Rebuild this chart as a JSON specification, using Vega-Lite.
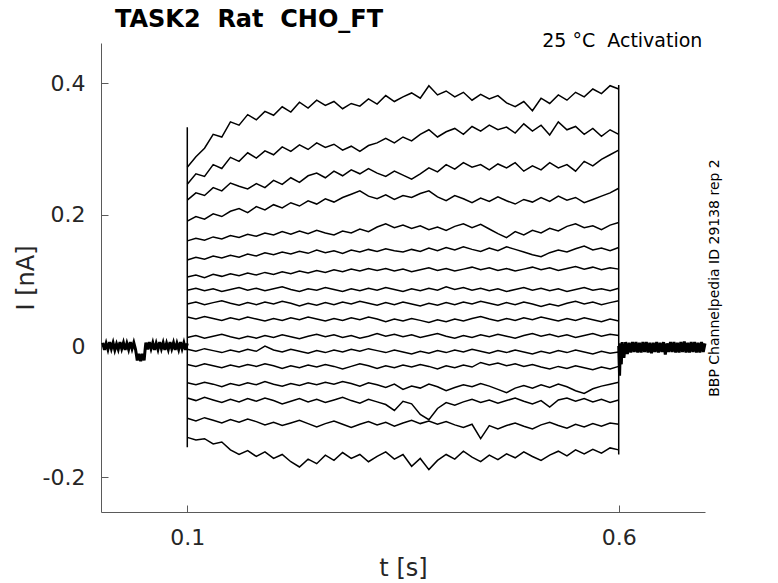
{
  "$schema": "https://vega.github.io/schema/vega-lite/v6.json",
  "width": 604,
  "height": 469,
  "autosize": {"type": "none"},
  "padding": {"left": 101, "top": 43, "right": 73, "bottom": 71},
  "background": "white",
  "title": {
    "text": "TASK2\u00a0 Rat\u00a0 CHO_FT",
    "anchor": "start",
    "frame": "group",
    "dx": 14,
    "dy": 11,
    "offset": -8,
    "baseline": "alphabetic",
    "font": "DejaVu Sans",
    "fontSize": 24,
    "fontWeight": "bold",
    "color": "black"
  },
  "datasets": {
    "base": [
      {"seg":"a","t":0.002,"i":0.005},{"seg":"a","t":0.004,"i":-0.006},{"seg":"a","t":0.006,"i":0.004},{"seg":"a","t":0.008,"i":-0.005},
      {"seg":"a","t":0.010,"i":0.006},{"seg":"a","t":0.012,"i":-0.004},{"seg":"a","t":0.014,"i":0.005},{"seg":"a","t":0.016,"i":-0.006},
      {"seg":"a","t":0.018,"i":0.003},{"seg":"a","t":0.020,"i":-0.005},{"seg":"a","t":0.022,"i":0.006},{"seg":"a","t":0.024,"i":-0.004},
      {"seg":"a","t":0.026,"i":0.005},{"seg":"a","t":0.028,"i":-0.006},{"seg":"a","t":0.030,"i":0.004},{"seg":"a","t":0.032,"i":-0.005},
      {"seg":"a","t":0.034,"i":0.006},{"seg":"a","t":0.036,"i":-0.004},{"seg":"a","t":0.038,"i":0.005},{"seg":"a","t":0.040,"i":-0.005},
      {"seg":"a","t":0.041,"i":-0.013},{"seg":"a","t":0.042,"i":-0.022},{"seg":"a","t":0.044,"i":-0.012},{"seg":"a","t":0.046,"i":-0.023},
      {"seg":"a","t":0.048,"i":-0.012},{"seg":"a","t":0.050,"i":-0.022},{"seg":"a","t":0.051,"i":-0.007},{"seg":"a","t":0.052,"i":0.005},
      {"seg":"a","t":0.054,"i":-0.005},{"seg":"a","t":0.056,"i":0.006},{"seg":"a","t":0.058,"i":-0.004},{"seg":"a","t":0.060,"i":0.005},
      {"seg":"a","t":0.062,"i":-0.006},{"seg":"a","t":0.064,"i":0.004},{"seg":"a","t":0.066,"i":-0.005},{"seg":"a","t":0.068,"i":0.006},
      {"seg":"a","t":0.070,"i":-0.004},{"seg":"a","t":0.072,"i":0.005},{"seg":"a","t":0.074,"i":-0.006},{"seg":"a","t":0.076,"i":0.004},
      {"seg":"a","t":0.078,"i":-0.005},{"seg":"a","t":0.080,"i":0.006},{"seg":"a","t":0.082,"i":-0.004},{"seg":"a","t":0.084,"i":0.005},
      {"seg":"a","t":0.086,"i":-0.006},{"seg":"a","t":0.088,"i":0.004},{"seg":"a","t":0.090,"i":-0.005},{"seg":"a","t":0.092,"i":0.006},
      {"seg":"a","t":0.094,"i":-0.004},{"seg":"a","t":0.096,"i":0.005},{"seg":"a","t":0.098,"i":-0.006},{"seg":"a","t":0.100,"i":0.004},
      {"seg":"b","t":0.600,"i":0.0},{"seg":"b","t":0.601,"i":-0.045},{"seg":"b","t":0.602,"i":0.004},{"seg":"b","t":0.603,"i":-0.028},
      {"seg":"b","t":0.604,"i":0.006},{"seg":"b","t":0.606,"i":-0.018},{"seg":"b","t":0.608,"i":0.006},{"seg":"b","t":0.610,"i":-0.012},
      {"seg":"b","t":0.612,"i":0.005},{"seg":"b","t":0.614,"i":-0.01},{"seg":"b","t":0.616,"i":0.006},{"seg":"b","t":0.618,"i":-0.009},
      {"seg":"b","t":0.620,"i":0.006},{"seg":"b","t":0.622,"i":-0.01},{"seg":"b","t":0.624,"i":0.005},{"seg":"b","t":0.626,"i":-0.01},
      {"seg":"b","t":0.628,"i":0.006},{"seg":"b","t":0.630,"i":-0.009},{"seg":"b","t":0.632,"i":0.006},{"seg":"b","t":0.634,"i":-0.01},
      {"seg":"b","t":0.636,"i":0.005},{"seg":"b","t":0.638,"i":-0.011},{"seg":"b","t":0.640,"i":0.005},{"seg":"b","t":0.642,"i":-0.009},
      {"seg":"b","t":0.644,"i":0.006},{"seg":"b","t":0.646,"i":-0.01},{"seg":"b","t":0.648,"i":0.005},{"seg":"b","t":0.650,"i":-0.009},
      {"seg":"b","t":0.652,"i":0.006},{"seg":"b","t":0.654,"i":-0.013},{"seg":"b","t":0.656,"i":0.004},{"seg":"b","t":0.658,"i":-0.009},
      {"seg":"b","t":0.660,"i":0.006},{"seg":"b","t":0.662,"i":-0.009},{"seg":"b","t":0.664,"i":0.006},{"seg":"b","t":0.666,"i":-0.01},
      {"seg":"b","t":0.668,"i":0.005},{"seg":"b","t":0.670,"i":-0.01},{"seg":"b","t":0.672,"i":0.006},{"seg":"b","t":0.674,"i":-0.009},
      {"seg":"b","t":0.676,"i":0.007},{"seg":"b","t":0.678,"i":-0.01},{"seg":"b","t":0.680,"i":0.005},{"seg":"b","t":0.682,"i":-0.01},
      {"seg":"b","t":0.684,"i":0.006},{"seg":"b","t":0.686,"i":-0.009},{"seg":"b","t":0.688,"i":0.006},{"seg":"b","t":0.690,"i":-0.01},
      {"seg":"b","t":0.692,"i":0.005},{"seg":"b","t":0.694,"i":-0.01},{"seg":"b","t":0.696,"i":0.006},{"seg":"b","t":0.698,"i":-0.009},
      {"seg":"b","t":0.700,"i":0.004}
    ],
    "spikes": [
      {"t": 0.1, "lo": -0.154, "hi": 0.333},
      {"t": 0.6, "lo": -0.165, "hi": 0.397}
    ],
    "traces": [
      {"k":1,"t":0.1,"i":0.272},{"k":1,"t":0.11,"i":0.288},{"k":1,"t":0.12,"i":0.301},{"k":1,"t":0.13,"i":0.322},{"k":1,"t":0.14,"i":0.318},{"k":1,"t":0.15,"i":0.341},{"k":1,"t":0.16,"i":0.336},{"k":1,"t":0.17,"i":0.352},{"k":1,"t":0.18,"i":0.344},{"k":1,"t":0.19,"i":0.357},
      {"k":1,"t":0.2,"i":0.351},{"k":1,"t":0.21,"i":0.364},{"k":1,"t":0.22,"i":0.356},{"k":1,"t":0.23,"i":0.371},{"k":1,"t":0.24,"i":0.362},{"k":1,"t":0.25,"i":0.374},{"k":1,"t":0.26,"i":0.366},{"k":1,"t":0.27,"i":0.372},{"k":1,"t":0.28,"i":0.361},{"k":1,"t":0.29,"i":0.369},
      {"k":1,"t":0.3,"i":0.365},{"k":1,"t":0.31,"i":0.376},{"k":1,"t":0.32,"i":0.368},{"k":1,"t":0.33,"i":0.381},{"k":1,"t":0.34,"i":0.372},{"k":1,"t":0.35,"i":0.379},{"k":1,"t":0.36,"i":0.385},{"k":1,"t":0.37,"i":0.377},{"k":1,"t":0.38,"i":0.396},{"k":1,"t":0.39,"i":0.382},
      {"k":1,"t":0.4,"i":0.388},{"k":1,"t":0.41,"i":0.379},{"k":1,"t":0.42,"i":0.386},{"k":1,"t":0.43,"i":0.374},{"k":1,"t":0.44,"i":0.383},{"k":1,"t":0.45,"i":0.376},{"k":1,"t":0.46,"i":0.381},{"k":1,"t":0.47,"i":0.37},{"k":1,"t":0.48,"i":0.364},{"k":1,"t":0.49,"i":0.372},
      {"k":1,"t":0.5,"i":0.358},{"k":1,"t":0.51,"i":0.377},{"k":1,"t":0.52,"i":0.369},{"k":1,"t":0.53,"i":0.382},{"k":1,"t":0.54,"i":0.374},{"k":1,"t":0.55,"i":0.386},{"k":1,"t":0.56,"i":0.379},{"k":1,"t":0.57,"i":0.391},{"k":1,"t":0.58,"i":0.384},{"k":1,"t":0.59,"i":0.396},{"k":1,"t":0.6,"i":0.391},

      {"k":2,"t":0.1,"i":0.246},{"k":2,"t":0.11,"i":0.262},{"k":2,"t":0.12,"i":0.258},{"k":2,"t":0.13,"i":0.276},{"k":2,"t":0.14,"i":0.27},{"k":2,"t":0.15,"i":0.287},{"k":2,"t":0.16,"i":0.281},{"k":2,"t":0.17,"i":0.294},{"k":2,"t":0.18,"i":0.286},{"k":2,"t":0.19,"i":0.297},
      {"k":2,"t":0.2,"i":0.291},{"k":2,"t":0.21,"i":0.303},{"k":2,"t":0.22,"i":0.296},{"k":2,"t":0.23,"i":0.306},{"k":2,"t":0.24,"i":0.299},{"k":2,"t":0.25,"i":0.309},{"k":2,"t":0.26,"i":0.302},{"k":2,"t":0.27,"i":0.307},{"k":2,"t":0.28,"i":0.298},{"k":2,"t":0.29,"i":0.304},
      {"k":2,"t":0.3,"i":0.296},{"k":2,"t":0.31,"i":0.305},{"k":2,"t":0.32,"i":0.309},{"k":2,"t":0.33,"i":0.316},{"k":2,"t":0.34,"i":0.309},{"k":2,"t":0.35,"i":0.318},{"k":2,"t":0.36,"i":0.312},{"k":2,"t":0.37,"i":0.322},{"k":2,"t":0.38,"i":0.329},{"k":2,"t":0.39,"i":0.318},
      {"k":2,"t":0.4,"i":0.326},{"k":2,"t":0.41,"i":0.331},{"k":2,"t":0.42,"i":0.322},{"k":2,"t":0.43,"i":0.334},{"k":2,"t":0.44,"i":0.327},{"k":2,"t":0.45,"i":0.336},{"k":2,"t":0.46,"i":0.329},{"k":2,"t":0.47,"i":0.333},{"k":2,"t":0.48,"i":0.324},{"k":2,"t":0.49,"i":0.338},
      {"k":2,"t":0.5,"i":0.327},{"k":2,"t":0.51,"i":0.336},{"k":2,"t":0.52,"i":0.321},{"k":2,"t":0.53,"i":0.341},{"k":2,"t":0.54,"i":0.329},{"k":2,"t":0.55,"i":0.334},{"k":2,"t":0.56,"i":0.322},{"k":2,"t":0.57,"i":0.331},{"k":2,"t":0.58,"i":0.319},{"k":2,"t":0.59,"i":0.329},{"k":2,"t":0.6,"i":0.322},

      {"k":3,"t":0.1,"i":0.222},{"k":3,"t":0.11,"i":0.233},{"k":3,"t":0.12,"i":0.229},{"k":3,"t":0.13,"i":0.241},{"k":3,"t":0.14,"i":0.236},{"k":3,"t":0.15,"i":0.248},{"k":3,"t":0.16,"i":0.243},{"k":3,"t":0.17,"i":0.239},{"k":3,"t":0.18,"i":0.247},{"k":3,"t":0.19,"i":0.241},
      {"k":3,"t":0.2,"i":0.252},{"k":3,"t":0.21,"i":0.246},{"k":3,"t":0.22,"i":0.256},{"k":3,"t":0.23,"i":0.249},{"k":3,"t":0.24,"i":0.259},{"k":3,"t":0.25,"i":0.263},{"k":3,"t":0.26,"i":0.256},{"k":3,"t":0.27,"i":0.266},{"k":3,"t":0.28,"i":0.259},{"k":3,"t":0.29,"i":0.268},
      {"k":3,"t":0.3,"i":0.262},{"k":3,"t":0.31,"i":0.27},{"k":3,"t":0.32,"i":0.263},{"k":3,"t":0.33,"i":0.258},{"k":3,"t":0.34,"i":0.266},{"k":3,"t":0.35,"i":0.26},{"k":3,"t":0.36,"i":0.254},{"k":3,"t":0.37,"i":0.262},{"k":3,"t":0.38,"i":0.271},{"k":3,"t":0.39,"i":0.265},
      {"k":3,"t":0.4,"i":0.276},{"k":3,"t":0.41,"i":0.269},{"k":3,"t":0.42,"i":0.279},{"k":3,"t":0.43,"i":0.272},{"k":3,"t":0.44,"i":0.276},{"k":3,"t":0.45,"i":0.268},{"k":3,"t":0.46,"i":0.277},{"k":3,"t":0.47,"i":0.271},{"k":3,"t":0.48,"i":0.279},{"k":3,"t":0.49,"i":0.266},
      {"k":3,"t":0.5,"i":0.274},{"k":3,"t":0.51,"i":0.268},{"k":3,"t":0.52,"i":0.279},{"k":3,"t":0.53,"i":0.271},{"k":3,"t":0.54,"i":0.276},{"k":3,"t":0.55,"i":0.266},{"k":3,"t":0.56,"i":0.281},{"k":3,"t":0.57,"i":0.274},{"k":3,"t":0.58,"i":0.284},{"k":3,"t":0.59,"i":0.291},{"k":3,"t":0.6,"i":0.298},

      {"k":4,"t":0.1,"i":0.19},{"k":4,"t":0.11,"i":0.197},{"k":4,"t":0.12,"i":0.193},{"k":4,"t":0.13,"i":0.201},{"k":4,"t":0.14,"i":0.197},{"k":4,"t":0.15,"i":0.205},{"k":4,"t":0.16,"i":0.209},{"k":4,"t":0.17,"i":0.203},{"k":4,"t":0.18,"i":0.212},{"k":4,"t":0.19,"i":0.207},
      {"k":4,"t":0.2,"i":0.215},{"k":4,"t":0.21,"i":0.21},{"k":4,"t":0.22,"i":0.218},{"k":4,"t":0.23,"i":0.213},{"k":4,"t":0.24,"i":0.221},{"k":4,"t":0.25,"i":0.216},{"k":4,"t":0.26,"i":0.224},{"k":4,"t":0.27,"i":0.219},{"k":4,"t":0.28,"i":0.226},{"k":4,"t":0.29,"i":0.231},
      {"k":4,"t":0.3,"i":0.236},{"k":4,"t":0.31,"i":0.228},{"k":4,"t":0.32,"i":0.224},{"k":4,"t":0.33,"i":0.23},{"k":4,"t":0.34,"i":0.223},{"k":4,"t":0.35,"i":0.229},{"k":4,"t":0.36,"i":0.226},{"k":4,"t":0.37,"i":0.232},{"k":4,"t":0.38,"i":0.236},{"k":4,"t":0.39,"i":0.227},
      {"k":4,"t":0.4,"i":0.221},{"k":4,"t":0.41,"i":0.229},{"k":4,"t":0.42,"i":0.224},{"k":4,"t":0.43,"i":0.218},{"k":4,"t":0.44,"i":0.225},{"k":4,"t":0.45,"i":0.22},{"k":4,"t":0.46,"i":0.227},{"k":4,"t":0.47,"i":0.221},{"k":4,"t":0.48,"i":0.216},{"k":4,"t":0.49,"i":0.223},
      {"k":4,"t":0.5,"i":0.219},{"k":4,"t":0.51,"i":0.226},{"k":4,"t":0.52,"i":0.22},{"k":4,"t":0.53,"i":0.228},{"k":4,"t":0.54,"i":0.222},{"k":4,"t":0.55,"i":0.226},{"k":4,"t":0.56,"i":0.218},{"k":4,"t":0.57,"i":0.223},{"k":4,"t":0.58,"i":0.228},{"k":4,"t":0.59,"i":0.233},{"k":4,"t":0.6,"i":0.24},

      {"k":5,"t":0.1,"i":0.16},{"k":5,"t":0.11,"i":0.164},{"k":5,"t":0.12,"i":0.161},{"k":5,"t":0.13,"i":0.166},{"k":5,"t":0.14,"i":0.163},{"k":5,"t":0.15,"i":0.168},{"k":5,"t":0.16,"i":0.165},{"k":5,"t":0.17,"i":0.17},{"k":5,"t":0.18,"i":0.167},{"k":5,"t":0.19,"i":0.172},
      {"k":5,"t":0.2,"i":0.169},{"k":5,"t":0.21,"i":0.174},{"k":5,"t":0.22,"i":0.17},{"k":5,"t":0.23,"i":0.175},{"k":5,"t":0.24,"i":0.171},{"k":5,"t":0.25,"i":0.176},{"k":5,"t":0.26,"i":0.172},{"k":5,"t":0.27,"i":0.169},{"k":5,"t":0.28,"i":0.175},{"k":5,"t":0.29,"i":0.172},
      {"k":5,"t":0.3,"i":0.178},{"k":5,"t":0.31,"i":0.174},{"k":5,"t":0.32,"i":0.181},{"k":5,"t":0.33,"i":0.186},{"k":5,"t":0.34,"i":0.18},{"k":5,"t":0.35,"i":0.184},{"k":5,"t":0.36,"i":0.179},{"k":5,"t":0.37,"i":0.183},{"k":5,"t":0.38,"i":0.177},{"k":5,"t":0.39,"i":0.181},
      {"k":5,"t":0.4,"i":0.176},{"k":5,"t":0.41,"i":0.182},{"k":5,"t":0.42,"i":0.186},{"k":5,"t":0.43,"i":0.18},{"k":5,"t":0.44,"i":0.185},{"k":5,"t":0.45,"i":0.178},{"k":5,"t":0.46,"i":0.171},{"k":5,"t":0.47,"i":0.165},{"k":5,"t":0.48,"i":0.174},{"k":5,"t":0.49,"i":0.169},
      {"k":5,"t":0.5,"i":0.176},{"k":5,"t":0.51,"i":0.172},{"k":5,"t":0.52,"i":0.179},{"k":5,"t":0.53,"i":0.175},{"k":5,"t":0.54,"i":0.182},{"k":5,"t":0.55,"i":0.186},{"k":5,"t":0.56,"i":0.18},{"k":5,"t":0.57,"i":0.183},{"k":5,"t":0.58,"i":0.177},{"k":5,"t":0.59,"i":0.184},{"k":5,"t":0.6,"i":0.188},

      {"k":6,"t":0.1,"i":0.131},{"k":6,"t":0.11,"i":0.135},{"k":6,"t":0.12,"i":0.132},{"k":6,"t":0.13,"i":0.137},{"k":6,"t":0.14,"i":0.134},{"k":6,"t":0.15,"i":0.138},{"k":6,"t":0.16,"i":0.135},{"k":6,"t":0.17,"i":0.14},{"k":6,"t":0.18,"i":0.137},{"k":6,"t":0.19,"i":0.142},
      {"k":6,"t":0.2,"i":0.139},{"k":6,"t":0.21,"i":0.143},{"k":6,"t":0.22,"i":0.14},{"k":6,"t":0.23,"i":0.144},{"k":6,"t":0.24,"i":0.141},{"k":6,"t":0.25,"i":0.146},{"k":6,"t":0.26,"i":0.142},{"k":6,"t":0.27,"i":0.145},{"k":6,"t":0.28,"i":0.141},{"k":6,"t":0.29,"i":0.146},
      {"k":6,"t":0.3,"i":0.143},{"k":6,"t":0.31,"i":0.147},{"k":6,"t":0.32,"i":0.144},{"k":6,"t":0.33,"i":0.148},{"k":6,"t":0.34,"i":0.145},{"k":6,"t":0.35,"i":0.143},{"k":6,"t":0.36,"i":0.147},{"k":6,"t":0.37,"i":0.144},{"k":6,"t":0.38,"i":0.149},{"k":6,"t":0.39,"i":0.145},
      {"k":6,"t":0.4,"i":0.15},{"k":6,"t":0.41,"i":0.146},{"k":6,"t":0.42,"i":0.151},{"k":6,"t":0.43,"i":0.147},{"k":6,"t":0.44,"i":0.144},{"k":6,"t":0.45,"i":0.149},{"k":6,"t":0.46,"i":0.145},{"k":6,"t":0.47,"i":0.151},{"k":6,"t":0.48,"i":0.147},{"k":6,"t":0.49,"i":0.143},
      {"k":6,"t":0.5,"i":0.139},{"k":6,"t":0.51,"i":0.136},{"k":6,"t":0.52,"i":0.142},{"k":6,"t":0.53,"i":0.146},{"k":6,"t":0.54,"i":0.143},{"k":6,"t":0.55,"i":0.148},{"k":6,"t":0.56,"i":0.152},{"k":6,"t":0.57,"i":0.146},{"k":6,"t":0.58,"i":0.149},{"k":6,"t":0.59,"i":0.145},{"k":6,"t":0.6,"i":0.15},

      {"k":7,"t":0.1,"i":0.105},{"k":7,"t":0.11,"i":0.108},{"k":7,"t":0.12,"i":0.104},{"k":7,"t":0.13,"i":0.109},{"k":7,"t":0.14,"i":0.106},{"k":7,"t":0.15,"i":0.11},{"k":7,"t":0.16,"i":0.107},{"k":7,"t":0.17,"i":0.111},{"k":7,"t":0.18,"i":0.108},{"k":7,"t":0.19,"i":0.112},
      {"k":7,"t":0.2,"i":0.109},{"k":7,"t":0.21,"i":0.113},{"k":7,"t":0.22,"i":0.11},{"k":7,"t":0.23,"i":0.114},{"k":7,"t":0.24,"i":0.111},{"k":7,"t":0.25,"i":0.115},{"k":7,"t":0.26,"i":0.112},{"k":7,"t":0.27,"i":0.116},{"k":7,"t":0.28,"i":0.113},{"k":7,"t":0.29,"i":0.117},
      {"k":7,"t":0.3,"i":0.114},{"k":7,"t":0.31,"i":0.118},{"k":7,"t":0.32,"i":0.115},{"k":7,"t":0.33,"i":0.118},{"k":7,"t":0.34,"i":0.114},{"k":7,"t":0.35,"i":0.117},{"k":7,"t":0.36,"i":0.113},{"k":7,"t":0.37,"i":0.116},{"k":7,"t":0.38,"i":0.119},{"k":7,"t":0.39,"i":0.115},
      {"k":7,"t":0.4,"i":0.118},{"k":7,"t":0.41,"i":0.114},{"k":7,"t":0.42,"i":0.117},{"k":7,"t":0.43,"i":0.12},{"k":7,"t":0.44,"i":0.116},{"k":7,"t":0.45,"i":0.119},{"k":7,"t":0.46,"i":0.115},{"k":7,"t":0.47,"i":0.118},{"k":7,"t":0.48,"i":0.114},{"k":7,"t":0.49,"i":0.117},
      {"k":7,"t":0.5,"i":0.12},{"k":7,"t":0.51,"i":0.116},{"k":7,"t":0.52,"i":0.119},{"k":7,"t":0.53,"i":0.115},{"k":7,"t":0.54,"i":0.118},{"k":7,"t":0.55,"i":0.121},{"k":7,"t":0.56,"i":0.117},{"k":7,"t":0.57,"i":0.12},{"k":7,"t":0.58,"i":0.116},{"k":7,"t":0.59,"i":0.119},{"k":7,"t":0.6,"i":0.117},

      {"k":8,"t":0.1,"i":0.085},{"k":8,"t":0.11,"i":0.088},{"k":8,"t":0.12,"i":0.084},{"k":8,"t":0.13,"i":0.087},{"k":8,"t":0.14,"i":0.083},{"k":8,"t":0.15,"i":0.086},{"k":8,"t":0.16,"i":0.089},{"k":8,"t":0.17,"i":0.085},{"k":8,"t":0.18,"i":0.088},{"k":8,"t":0.19,"i":0.084},
      {"k":8,"t":0.2,"i":0.087},{"k":8,"t":0.21,"i":0.09},{"k":8,"t":0.22,"i":0.086},{"k":8,"t":0.23,"i":0.083},{"k":8,"t":0.24,"i":0.087},{"k":8,"t":0.25,"i":0.085},{"k":8,"t":0.26,"i":0.089},{"k":8,"t":0.27,"i":0.086},{"k":8,"t":0.28,"i":0.083},{"k":8,"t":0.29,"i":0.087},
      {"k":8,"t":0.3,"i":0.084},{"k":8,"t":0.31,"i":0.088},{"k":8,"t":0.32,"i":0.085},{"k":8,"t":0.33,"i":0.089},{"k":8,"t":0.34,"i":0.086},{"k":8,"t":0.35,"i":0.083},{"k":8,"t":0.36,"i":0.087},{"k":8,"t":0.37,"i":0.084},{"k":8,"t":0.38,"i":0.088},{"k":8,"t":0.39,"i":0.085},
      {"k":8,"t":0.4,"i":0.09},{"k":8,"t":0.41,"i":0.086},{"k":8,"t":0.42,"i":0.089},{"k":8,"t":0.43,"i":0.085},{"k":8,"t":0.44,"i":0.088},{"k":8,"t":0.45,"i":0.084},{"k":8,"t":0.46,"i":0.087},{"k":8,"t":0.47,"i":0.083},{"k":8,"t":0.48,"i":0.086},{"k":8,"t":0.49,"i":0.089},
      {"k":8,"t":0.5,"i":0.085},{"k":8,"t":0.51,"i":0.088},{"k":8,"t":0.52,"i":0.084},{"k":8,"t":0.53,"i":0.087},{"k":8,"t":0.54,"i":0.083},{"k":8,"t":0.55,"i":0.086},{"k":8,"t":0.56,"i":0.089},{"k":8,"t":0.57,"i":0.085},{"k":8,"t":0.58,"i":0.087},{"k":8,"t":0.59,"i":0.084},{"k":8,"t":0.6,"i":0.088},

      {"k":9,"t":0.1,"i":0.064},{"k":9,"t":0.11,"i":0.067},{"k":9,"t":0.12,"i":0.063},{"k":9,"t":0.13,"i":0.066},{"k":9,"t":0.14,"i":0.069},{"k":9,"t":0.15,"i":0.065},{"k":9,"t":0.16,"i":0.062},{"k":9,"t":0.17,"i":0.066},{"k":9,"t":0.18,"i":0.063},{"k":9,"t":0.19,"i":0.067},
      {"k":9,"t":0.2,"i":0.064},{"k":9,"t":0.21,"i":0.068},{"k":9,"t":0.22,"i":0.065},{"k":9,"t":0.23,"i":0.061},{"k":9,"t":0.24,"i":0.065},{"k":9,"t":0.25,"i":0.062},{"k":9,"t":0.26,"i":0.066},{"k":9,"t":0.27,"i":0.063},{"k":9,"t":0.28,"i":0.067},{"k":9,"t":0.29,"i":0.064},
      {"k":9,"t":0.3,"i":0.068},{"k":9,"t":0.31,"i":0.065},{"k":9,"t":0.32,"i":0.062},{"k":9,"t":0.33,"i":0.066},{"k":9,"t":0.34,"i":0.063},{"k":9,"t":0.35,"i":0.067},{"k":9,"t":0.36,"i":0.064},{"k":9,"t":0.37,"i":0.061},{"k":9,"t":0.38,"i":0.065},{"k":9,"t":0.39,"i":0.062},
      {"k":9,"t":0.4,"i":0.066},{"k":9,"t":0.41,"i":0.063},{"k":9,"t":0.42,"i":0.067},{"k":9,"t":0.43,"i":0.064},{"k":9,"t":0.44,"i":0.068},{"k":9,"t":0.45,"i":0.065},{"k":9,"t":0.46,"i":0.062},{"k":9,"t":0.47,"i":0.066},{"k":9,"t":0.48,"i":0.063},{"k":9,"t":0.49,"i":0.067},
      {"k":9,"t":0.5,"i":0.064},{"k":9,"t":0.51,"i":0.06},{"k":9,"t":0.52,"i":0.064},{"k":9,"t":0.53,"i":0.061},{"k":9,"t":0.54,"i":0.065},{"k":9,"t":0.55,"i":0.068},{"k":9,"t":0.56,"i":0.064},{"k":9,"t":0.57,"i":0.067},{"k":9,"t":0.58,"i":0.063},{"k":9,"t":0.59,"i":0.066},{"k":9,"t":0.6,"i":0.069},

      {"k":10,"t":0.1,"i":0.044},{"k":10,"t":0.11,"i":0.041},{"k":10,"t":0.12,"i":0.045},{"k":10,"t":0.13,"i":0.042},{"k":10,"t":0.14,"i":0.039},{"k":10,"t":0.15,"i":0.043},{"k":10,"t":0.16,"i":0.04},{"k":10,"t":0.17,"i":0.044},{"k":10,"t":0.18,"i":0.041},{"k":10,"t":0.19,"i":0.038},
      {"k":10,"t":0.2,"i":0.042},{"k":10,"t":0.21,"i":0.039},{"k":10,"t":0.22,"i":0.043},{"k":10,"t":0.23,"i":0.04},{"k":10,"t":0.24,"i":0.044},{"k":10,"t":0.25,"i":0.041},{"k":10,"t":0.26,"i":0.038},{"k":10,"t":0.27,"i":0.042},{"k":10,"t":0.28,"i":0.039},{"k":10,"t":0.29,"i":0.043},
      {"k":10,"t":0.3,"i":0.04},{"k":10,"t":0.31,"i":0.044},{"k":10,"t":0.32,"i":0.041},{"k":10,"t":0.33,"i":0.037},{"k":10,"t":0.34,"i":0.041},{"k":10,"t":0.35,"i":0.038},{"k":10,"t":0.36,"i":0.042},{"k":10,"t":0.37,"i":0.039},{"k":10,"t":0.38,"i":0.036},{"k":10,"t":0.39,"i":0.04},
      {"k":10,"t":0.4,"i":0.037},{"k":10,"t":0.41,"i":0.041},{"k":10,"t":0.42,"i":0.038},{"k":10,"t":0.43,"i":0.042},{"k":10,"t":0.44,"i":0.045},{"k":10,"t":0.45,"i":0.041},{"k":10,"t":0.46,"i":0.038},{"k":10,"t":0.47,"i":0.042},{"k":10,"t":0.48,"i":0.039},{"k":10,"t":0.49,"i":0.043},
      {"k":10,"t":0.5,"i":0.04},{"k":10,"t":0.51,"i":0.044},{"k":10,"t":0.52,"i":0.041},{"k":10,"t":0.53,"i":0.038},{"k":10,"t":0.54,"i":0.042},{"k":10,"t":0.55,"i":0.039},{"k":10,"t":0.56,"i":0.043},{"k":10,"t":0.57,"i":0.04},{"k":10,"t":0.58,"i":0.037},{"k":10,"t":0.59,"i":0.041},{"k":10,"t":0.6,"i":0.038},

      {"k":11,"t":0.1,"i":0.013},{"k":11,"t":0.11,"i":0.016},{"k":11,"t":0.12,"i":0.012},{"k":11,"t":0.13,"i":0.015},{"k":11,"t":0.14,"i":0.018},{"k":11,"t":0.15,"i":0.014},{"k":11,"t":0.16,"i":0.011},{"k":11,"t":0.17,"i":0.015},{"k":11,"t":0.18,"i":0.012},{"k":11,"t":0.19,"i":0.016},
      {"k":11,"t":0.2,"i":0.013},{"k":11,"t":0.21,"i":0.017},{"k":11,"t":0.22,"i":0.014},{"k":11,"t":0.23,"i":0.011},{"k":11,"t":0.24,"i":0.015},{"k":11,"t":0.25,"i":0.018},{"k":11,"t":0.26,"i":0.014},{"k":11,"t":0.27,"i":0.017},{"k":11,"t":0.28,"i":0.013},{"k":11,"t":0.29,"i":0.016},
      {"k":11,"t":0.3,"i":0.012},{"k":11,"t":0.31,"i":0.015},{"k":11,"t":0.32,"i":0.019},{"k":11,"t":0.33,"i":0.015},{"k":11,"t":0.34,"i":0.018},{"k":11,"t":0.35,"i":0.014},{"k":11,"t":0.36,"i":0.017},{"k":11,"t":0.37,"i":0.013},{"k":11,"t":0.38,"i":0.016},{"k":11,"t":0.39,"i":0.019},
      {"k":11,"t":0.4,"i":0.015},{"k":11,"t":0.41,"i":0.012},{"k":11,"t":0.42,"i":0.016},{"k":11,"t":0.43,"i":0.013},{"k":11,"t":0.44,"i":0.017},{"k":11,"t":0.45,"i":0.014},{"k":11,"t":0.46,"i":0.018},{"k":11,"t":0.47,"i":0.015},{"k":11,"t":0.48,"i":0.012},{"k":11,"t":0.49,"i":0.016},
      {"k":11,"t":0.5,"i":0.019},{"k":11,"t":0.51,"i":0.015},{"k":11,"t":0.52,"i":0.018},{"k":11,"t":0.53,"i":0.014},{"k":11,"t":0.54,"i":0.017},{"k":11,"t":0.55,"i":0.013},{"k":11,"t":0.56,"i":0.016},{"k":11,"t":0.57,"i":0.019},{"k":11,"t":0.58,"i":0.015},{"k":11,"t":0.59,"i":0.018},{"k":11,"t":0.6,"i":0.016},

      {"k":12,"t":0.1,"i":-0.005},{"k":12,"t":0.11,"i":-0.008},{"k":12,"t":0.12,"i":-0.004},{"k":12,"t":0.13,"i":-0.007},{"k":12,"t":0.14,"i":-0.01},{"k":12,"t":0.15,"i":-0.006},{"k":12,"t":0.16,"i":-0.009},{"k":12,"t":0.17,"i":-0.005},{"k":12,"t":0.18,"i":-0.008},{"k":12,"t":0.19,"i":0.0},
      {"k":12,"t":0.2,"i":-0.006},{"k":12,"t":0.21,"i":-0.009},{"k":12,"t":0.22,"i":-0.005},{"k":12,"t":0.23,"i":-0.008},{"k":12,"t":0.24,"i":-0.011},{"k":12,"t":0.25,"i":-0.007},{"k":12,"t":0.26,"i":-0.01},{"k":12,"t":0.27,"i":-0.006},{"k":12,"t":0.28,"i":-0.009},{"k":12,"t":0.29,"i":-0.005},
      {"k":12,"t":0.3,"i":-0.008},{"k":12,"t":0.31,"i":-0.004},{"k":12,"t":0.32,"i":-0.007},{"k":12,"t":0.33,"i":-0.01},{"k":12,"t":0.34,"i":-0.006},{"k":12,"t":0.35,"i":-0.009},{"k":12,"t":0.36,"i":-0.012},{"k":12,"t":0.37,"i":-0.008},{"k":12,"t":0.38,"i":-0.011},{"k":12,"t":0.39,"i":-0.007},
      {"k":12,"t":0.4,"i":-0.01},{"k":12,"t":0.41,"i":-0.006},{"k":12,"t":0.42,"i":-0.009},{"k":12,"t":0.43,"i":-0.005},{"k":12,"t":0.44,"i":-0.008},{"k":12,"t":0.45,"i":-0.011},{"k":12,"t":0.46,"i":-0.007},{"k":12,"t":0.47,"i":-0.01},{"k":12,"t":0.48,"i":-0.006},{"k":12,"t":0.49,"i":-0.009},
      {"k":12,"t":0.5,"i":-0.012},{"k":12,"t":0.51,"i":-0.008},{"k":12,"t":0.52,"i":-0.011},{"k":12,"t":0.53,"i":-0.007},{"k":12,"t":0.54,"i":-0.01},{"k":12,"t":0.55,"i":-0.006},{"k":12,"t":0.56,"i":-0.009},{"k":12,"t":0.57,"i":-0.012},{"k":12,"t":0.58,"i":-0.008},{"k":12,"t":0.59,"i":-0.011},{"k":12,"t":0.6,"i":-0.009},

      {"k":13,"t":0.1,"i":-0.028},{"k":13,"t":0.11,"i":-0.031},{"k":13,"t":0.12,"i":-0.027},{"k":13,"t":0.13,"i":-0.03},{"k":13,"t":0.14,"i":-0.033},{"k":13,"t":0.15,"i":-0.029},{"k":13,"t":0.16,"i":-0.032},{"k":13,"t":0.17,"i":-0.028},{"k":13,"t":0.18,"i":-0.031},{"k":13,"t":0.19,"i":-0.027},
      {"k":13,"t":0.2,"i":-0.03},{"k":13,"t":0.21,"i":-0.034},{"k":13,"t":0.22,"i":-0.03},{"k":13,"t":0.23,"i":-0.033},{"k":13,"t":0.24,"i":-0.029},{"k":13,"t":0.25,"i":-0.032},{"k":13,"t":0.26,"i":-0.028},{"k":13,"t":0.27,"i":-0.031},{"k":13,"t":0.28,"i":-0.035},{"k":13,"t":0.29,"i":-0.031},
      {"k":13,"t":0.3,"i":-0.027},{"k":13,"t":0.31,"i":-0.03},{"k":13,"t":0.32,"i":-0.034},{"k":13,"t":0.33,"i":-0.03},{"k":13,"t":0.34,"i":-0.033},{"k":13,"t":0.35,"i":-0.029},{"k":13,"t":0.36,"i":-0.032},{"k":13,"t":0.37,"i":-0.028},{"k":13,"t":0.38,"i":-0.031},{"k":13,"t":0.39,"i":-0.035},
      {"k":13,"t":0.4,"i":-0.03},{"k":13,"t":0.41,"i":-0.033},{"k":13,"t":0.42,"i":-0.029},{"k":13,"t":0.43,"i":-0.032},{"k":13,"t":0.44,"i":-0.025},{"k":13,"t":0.45,"i":-0.029},{"k":13,"t":0.46,"i":-0.026},{"k":13,"t":0.47,"i":-0.03},{"k":13,"t":0.48,"i":-0.027},{"k":13,"t":0.49,"i":-0.031},
      {"k":13,"t":0.5,"i":-0.028},{"k":13,"t":0.51,"i":-0.032},{"k":13,"t":0.52,"i":-0.035},{"k":13,"t":0.53,"i":-0.031},{"k":13,"t":0.54,"i":-0.034},{"k":13,"t":0.55,"i":-0.03},{"k":13,"t":0.56,"i":-0.033},{"k":13,"t":0.57,"i":-0.036},{"k":13,"t":0.58,"i":-0.032},{"k":13,"t":0.59,"i":-0.035},{"k":13,"t":0.6,"i":-0.031},

      {"k":14,"t":0.1,"i":-0.056},{"k":14,"t":0.11,"i":-0.059},{"k":14,"t":0.12,"i":-0.055},{"k":14,"t":0.13,"i":-0.058},{"k":14,"t":0.14,"i":-0.062},{"k":14,"t":0.15,"i":-0.057},{"k":14,"t":0.16,"i":-0.06},{"k":14,"t":0.17,"i":-0.056},{"k":14,"t":0.18,"i":-0.059},{"k":14,"t":0.19,"i":-0.054},
      {"k":14,"t":0.2,"i":-0.058},{"k":14,"t":0.21,"i":-0.061},{"k":14,"t":0.22,"i":-0.057},{"k":14,"t":0.23,"i":-0.06},{"k":14,"t":0.24,"i":-0.056},{"k":14,"t":0.25,"i":-0.059},{"k":14,"t":0.26,"i":-0.055},{"k":14,"t":0.27,"i":-0.058},{"k":14,"t":0.28,"i":-0.054},{"k":14,"t":0.29,"i":-0.057},
      {"k":14,"t":0.3,"i":-0.061},{"k":14,"t":0.31,"i":-0.056},{"k":14,"t":0.32,"i":-0.059},{"k":14,"t":0.33,"i":-0.063},{"k":14,"t":0.34,"i":-0.058},{"k":14,"t":0.35,"i":-0.066},{"k":14,"t":0.36,"i":-0.061},{"k":14,"t":0.37,"i":-0.064},{"k":14,"t":0.38,"i":-0.058},{"k":14,"t":0.39,"i":-0.062},
      {"k":14,"t":0.4,"i":-0.068},{"k":14,"t":0.41,"i":-0.063},{"k":14,"t":0.42,"i":-0.059},{"k":14,"t":0.43,"i":-0.062},{"k":14,"t":0.44,"i":-0.057},{"k":14,"t":0.45,"i":-0.061},{"k":14,"t":0.46,"i":-0.066},{"k":14,"t":0.47,"i":-0.071},{"k":14,"t":0.48,"i":-0.064},{"k":14,"t":0.49,"i":-0.06},
      {"k":14,"t":0.5,"i":-0.064},{"k":14,"t":0.51,"i":-0.059},{"k":14,"t":0.52,"i":-0.063},{"k":14,"t":0.53,"i":-0.058},{"k":14,"t":0.54,"i":-0.062},{"k":14,"t":0.55,"i":-0.068},{"k":14,"t":0.56,"i":-0.072},{"k":14,"t":0.57,"i":-0.065},{"k":14,"t":0.58,"i":-0.061},{"k":14,"t":0.59,"i":-0.058},{"k":14,"t":0.6,"i":-0.055},

      {"k":15,"t":0.1,"i":-0.079},{"k":15,"t":0.11,"i":-0.083},{"k":15,"t":0.12,"i":-0.078},{"k":15,"t":0.13,"i":-0.082},{"k":15,"t":0.14,"i":-0.086},{"k":15,"t":0.15,"i":-0.081},{"k":15,"t":0.16,"i":-0.085},{"k":15,"t":0.17,"i":-0.08},{"k":15,"t":0.18,"i":-0.084},{"k":15,"t":0.19,"i":-0.079},
      {"k":15,"t":0.2,"i":-0.083},{"k":15,"t":0.21,"i":-0.088},{"k":15,"t":0.22,"i":-0.084},{"k":15,"t":0.23,"i":-0.08},{"k":15,"t":0.24,"i":-0.085},{"k":15,"t":0.25,"i":-0.081},{"k":15,"t":0.26,"i":-0.086},{"k":15,"t":0.27,"i":-0.082},{"k":15,"t":0.28,"i":-0.078},{"k":15,"t":0.29,"i":-0.083},
      {"k":15,"t":0.3,"i":-0.087},{"k":15,"t":0.31,"i":-0.081},{"k":15,"t":0.32,"i":-0.085},{"k":15,"t":0.33,"i":-0.089},{"k":15,"t":0.34,"i":-0.098},{"k":15,"t":0.35,"i":-0.084},{"k":15,"t":0.36,"i":-0.088},{"k":15,"t":0.37,"i":-0.104},{"k":15,"t":0.38,"i":-0.112},{"k":15,"t":0.39,"i":-0.095},
      {"k":15,"t":0.4,"i":-0.086},{"k":15,"t":0.41,"i":-0.09},{"k":15,"t":0.42,"i":-0.085},{"k":15,"t":0.43,"i":-0.081},{"k":15,"t":0.44,"i":-0.086},{"k":15,"t":0.45,"i":-0.082},{"k":15,"t":0.46,"i":-0.087},{"k":15,"t":0.47,"i":-0.083},{"k":15,"t":0.48,"i":-0.079},{"k":15,"t":0.49,"i":-0.084},
      {"k":15,"t":0.5,"i":-0.088},{"k":15,"t":0.51,"i":-0.083},{"k":15,"t":0.52,"i":-0.093},{"k":15,"t":0.53,"i":-0.082},{"k":15,"t":0.54,"i":-0.079},{"k":15,"t":0.55,"i":-0.084},{"k":15,"t":0.56,"i":-0.08},{"k":15,"t":0.57,"i":-0.085},{"k":15,"t":0.58,"i":-0.081},{"k":15,"t":0.59,"i":-0.086},{"k":15,"t":0.6,"i":-0.082},

      {"k":16,"t":0.1,"i":-0.11},{"k":16,"t":0.11,"i":-0.114},{"k":16,"t":0.12,"i":-0.109},{"k":16,"t":0.13,"i":-0.113},{"k":16,"t":0.14,"i":-0.117},{"k":16,"t":0.15,"i":-0.112},{"k":16,"t":0.16,"i":-0.116},{"k":16,"t":0.17,"i":-0.111},{"k":16,"t":0.18,"i":-0.115},{"k":16,"t":0.19,"i":-0.12},
      {"k":16,"t":0.2,"i":-0.116},{"k":16,"t":0.21,"i":-0.121},{"k":16,"t":0.22,"i":-0.117},{"k":16,"t":0.23,"i":-0.113},{"k":16,"t":0.24,"i":-0.118},{"k":16,"t":0.25,"i":-0.123},{"k":16,"t":0.26,"i":-0.118},{"k":16,"t":0.27,"i":-0.114},{"k":16,"t":0.28,"i":-0.119},{"k":16,"t":0.29,"i":-0.124},
      {"k":16,"t":0.3,"i":-0.119},{"k":16,"t":0.31,"i":-0.115},{"k":16,"t":0.32,"i":-0.12},{"k":16,"t":0.33,"i":-0.116},{"k":16,"t":0.34,"i":-0.122},{"k":16,"t":0.35,"i":-0.117},{"k":16,"t":0.36,"i":-0.113},{"k":16,"t":0.37,"i":-0.118},{"k":16,"t":0.38,"i":-0.114},{"k":16,"t":0.39,"i":-0.119},
      {"k":16,"t":0.4,"i":-0.115},{"k":16,"t":0.41,"i":-0.12},{"k":16,"t":0.42,"i":-0.124},{"k":16,"t":0.43,"i":-0.119},{"k":16,"t":0.44,"i":-0.141},{"k":16,"t":0.45,"i":-0.121},{"k":16,"t":0.46,"i":-0.126},{"k":16,"t":0.47,"i":-0.121},{"k":16,"t":0.48,"i":-0.117},{"k":16,"t":0.49,"i":-0.122},
      {"k":16,"t":0.5,"i":-0.126},{"k":16,"t":0.51,"i":-0.12},{"k":16,"t":0.52,"i":-0.116},{"k":16,"t":0.53,"i":-0.121},{"k":16,"t":0.54,"i":-0.125},{"k":16,"t":0.55,"i":-0.119},{"k":16,"t":0.56,"i":-0.123},{"k":16,"t":0.57,"i":-0.118},{"k":16,"t":0.58,"i":-0.122},{"k":16,"t":0.59,"i":-0.117},{"k":16,"t":0.6,"i":-0.119},

      {"k":17,"t":0.1,"i":-0.139},{"k":17,"t":0.11,"i":-0.143},{"k":17,"t":0.12,"i":-0.141},{"k":17,"t":0.13,"i":-0.149},{"k":17,"t":0.14,"i":-0.146},{"k":17,"t":0.15,"i":-0.158},{"k":17,"t":0.16,"i":-0.165},{"k":17,"t":0.17,"i":-0.159},{"k":17,"t":0.18,"i":-0.168},{"k":17,"t":0.19,"i":-0.161},
      {"k":17,"t":0.2,"i":-0.171},{"k":17,"t":0.21,"i":-0.165},{"k":17,"t":0.22,"i":-0.176},{"k":17,"t":0.23,"i":-0.184},{"k":17,"t":0.24,"i":-0.172},{"k":17,"t":0.25,"i":-0.179},{"k":17,"t":0.26,"i":-0.166},{"k":17,"t":0.27,"i":-0.174},{"k":17,"t":0.28,"i":-0.162},{"k":17,"t":0.29,"i":-0.171},
      {"k":17,"t":0.3,"i":-0.165},{"k":17,"t":0.31,"i":-0.176},{"k":17,"t":0.32,"i":-0.168},{"k":17,"t":0.33,"i":-0.161},{"k":17,"t":0.34,"i":-0.172},{"k":17,"t":0.35,"i":-0.165},{"k":17,"t":0.36,"i":-0.183},{"k":17,"t":0.37,"i":-0.171},{"k":17,"t":0.38,"i":-0.188},{"k":17,"t":0.39,"i":-0.174},
      {"k":17,"t":0.4,"i":-0.165},{"k":17,"t":0.41,"i":-0.172},{"k":17,"t":0.42,"i":-0.16},{"k":17,"t":0.43,"i":-0.169},{"k":17,"t":0.44,"i":-0.176},{"k":17,"t":0.45,"i":-0.166},{"k":17,"t":0.46,"i":-0.173},{"k":17,"t":0.47,"i":-0.164},{"k":17,"t":0.48,"i":-0.17},{"k":17,"t":0.49,"i":-0.161},
      {"k":17,"t":0.5,"i":-0.168},{"k":17,"t":0.51,"i":-0.174},{"k":17,"t":0.52,"i":-0.166},{"k":17,"t":0.53,"i":-0.16},{"k":17,"t":0.54,"i":-0.167},{"k":17,"t":0.55,"i":-0.158},{"k":17,"t":0.56,"i":-0.164},{"k":17,"t":0.57,"i":-0.157},{"k":17,"t":0.58,"i":-0.163},{"k":17,"t":0.59,"i":-0.155},{"k":17,"t":0.6,"i":-0.158}
    ]
  },
  "layer": [
    {
      "data": {"name": "base"},
      "mark": {"type": "line", "color": "black", "strokeWidth": 3},
      "encoding": {
        "x": {"field": "t", "type": "quantitative", "scale": {"domain": [0, 0.7], "nice": false, "zero": false}, "axis": null},
        "y": {"field": "i", "type": "quantitative", "scale": {"domain": [-0.2525, 0.461], "nice": false, "zero": false}, "axis": null},
        "detail": {"field": "seg"}
      }
    },
    {
      "data": {"name": "traces"},
      "mark": {"type": "line", "color": "black", "strokeWidth": 1.5},
      "encoding": {
        "x": {
          "field": "t",
          "type": "quantitative",
          "scale": {"domain": [0, 0.7], "nice": false, "zero": false},
          "axis": {
            "orient": "bottom",
            "values": [0.1, 0.6],
            "format": ".1f",
            "title": "t [s]",
            "grid": false,
            "tickSize": -7,
            "tickWidth": 1,
            "tickColor": "#5a5a5a",
            "domainColor": "#5a5a5a",
            "labelPadding": 22,
            "labelFont": "DejaVu Sans",
            "labelFontSize": 22,
            "labelColor": "#262626",
            "titleFont": "DejaVu Sans",
            "titleFontSize": 24,
            "titleFontWeight": "normal",
            "titleColor": "#262626",
            "titlePadding": 8
          }
        },
        "y": {
          "field": "i",
          "type": "quantitative",
          "scale": {"domain": [-0.2525, 0.461], "nice": false, "zero": false},
          "axis": {
            "orient": "left",
            "values": [-0.2, 0, 0.2, 0.4],
            "labelExpr": "datum.value > 0 ? format(datum.value, '.1f') : datum.value < 0 ? '-' + format(-datum.value, '.1f') : '0'",
            "title": "I [nA]",
            "grid": false,
            "tickSize": -7,
            "tickWidth": 1,
            "tickColor": "#5a5a5a",
            "domainColor": "#5a5a5a",
            "labelPadding": 23,
            "labelFont": "DejaVu Sans",
            "labelFontSize": 22,
            "labelColor": "#262626",
            "titleFont": "DejaVu Sans",
            "titleFontSize": 24,
            "titleFontWeight": "normal",
            "titleColor": "#262626",
            "titlePadding": 4
          }
        },
        "detail": {"field": "k"}
      }
    },
    {
      "data": {"name": "spikes"},
      "mark": {"type": "rule", "color": "black", "strokeWidth": 1.5},
      "encoding": {
        "x": {"field": "t", "type": "quantitative", "scale": {"domain": [0, 0.7], "nice": false, "zero": false}, "axis": null},
        "y": {
          "field": "lo",
          "type": "quantitative",
          "scale": {"domain": [-0.2525, 0.461], "nice": false, "zero": false},
          "axis": {
            "orient": "right",
            "title": "BBP Channelpedia ID 29138 rep 2",
            "labels": false,
            "ticks": false,
            "domain": false,
            "grid": false,
            "titleAngle": 270,
            "titlePadding": 16,
            "titleFont": "DejaVu Sans",
            "titleFontSize": 14,
            "titleFontWeight": "normal",
            "titleColor": "black"
          }
        },
        "y2": {"field": "hi"}
      }
    },
    {
      "data": {"values": [{}]},
      "mark": {"type": "text", "align": "right", "baseline": "alphabetic", "font": "DejaVu Sans", "fontSize": 19, "color": "black"},
      "encoding": {
        "x": {"datum": 0.697, "type": "quantitative", "scale": {"domain": [0, 0.7], "nice": false, "zero": false}, "axis": null},
        "y": {"datum": 0.455, "type": "quantitative", "scale": {"domain": [-0.2525, 0.461], "nice": false, "zero": false}, "axis": null},
        "text": {"value": "25 °C\u00a0 Activation"}
      }
    }
  ],
  "resolve": {"axis": {"x": "independent", "y": "independent"}},
  "config": {"view": {"stroke": null}}
}
